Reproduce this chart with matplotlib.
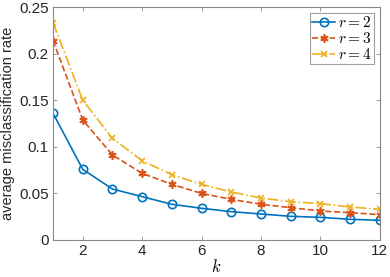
import matplotlib
matplotlib.use("Agg")
import matplotlib.pyplot as plt
import numpy as np

k = list(range(1, 13))
r2 = [0.136, 0.0758, 0.0547, 0.0465, 0.0383, 0.034, 0.0304, 0.0279, 0.0254, 0.0243, 0.0222, 0.0211]
r3 = [0.2139, 0.1288, 0.0912, 0.0715, 0.0597, 0.050, 0.0436, 0.0383, 0.0347, 0.0311, 0.0293, 0.0272]
r4 = [0.2332, 0.150, 0.109, 0.0851, 0.070, 0.0597, 0.0515, 0.045, 0.0411, 0.039, 0.0354, 0.0329]
labels = [r'$r=2$', r'$r=3$', r'$r=4$']
yticks = [0, 0.05, 0.1, 0.15, 0.2, 0.25]
yticklabels = ['0', '0.05', '0.1', '0.15', '0.2', '0.25']
xticks = [2, 4, 6, 8, 10, 12]

plt.rcParams['font.family'] = ['Liberation Sans', 'DejaVu Sans']
plt.rcParams['mathtext.fontset'] = 'cm'

fig = plt.figure(figsize=(3.9, 2.77), dpi=100)
ax = fig.add_axes([0.136, 0.1336, 0.838, 0.8411])

asterisk = (6, 2, 0)
ax.plot(k, r2, color='#0072BD', linestyle='-', marker='o', markersize=6, markerfacecolor='none', markeredgewidth=1.2, linewidth=1.2, label=labels[0])
ax.plot(k, r3, color='#D95319', linestyle='--', marker=asterisk, markersize=6, markeredgewidth=1.2, linewidth=1.2, label=labels[1])
ax.plot(k, r4, color='#EDB120', linestyle='-.', marker='x', markersize=5, markeredgewidth=1.2, linewidth=1.2, label=labels[2])

ax.set_xlim(1, 12)
ax.set_ylim(0, 0.25)
ax.set_xticks(xticks)
ax.set_yticks(yticks)
ax.set_yticklabels(yticklabels)
ax.tick_params(direction='in', length=3, width=0.6, colors='#888888', labelcolor='#262626', labelsize=11, top=True, right=True, pad=3)
for sp in ax.spines.values():
    sp.set_color('#888888')
    sp.set_linewidth(0.8)
ax.set_xlabel(r'$k$', fontsize=12, labelpad=0)
ax.set_ylabel('average misclassification rate', fontsize=10.5, color='#262626', labelpad=3)

leg = ax.legend(loc='upper right', fontsize=11, frameon=True, fancybox=False, edgecolor='#888888',
                borderpad=0.15, handlelength=1.5, handletextpad=0.2, labelspacing=0.05, borderaxespad=0.4)
leg.get_frame().set_linewidth(0.8)

fig.savefig('out.png', dpi=100)
